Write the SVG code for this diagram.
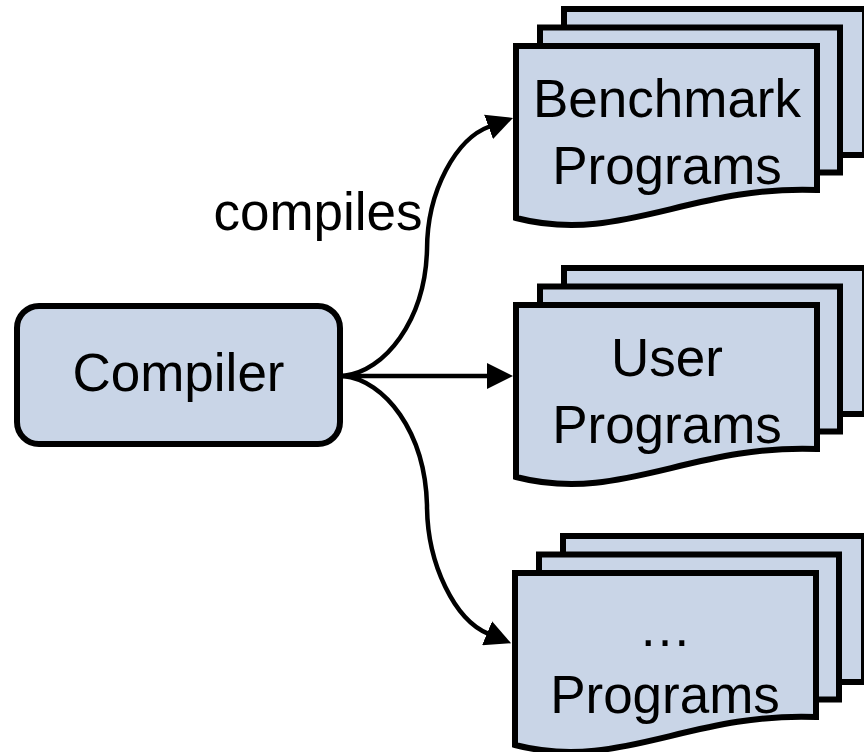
<svg xmlns="http://www.w3.org/2000/svg" width="864" height="752" viewBox="0 0 864 752">
  <style>
    .shape { fill: #c9d5e7; stroke: #000; stroke-width: 6; stroke-linejoin: miter; }
    .label { font-family: "Liberation Sans", Arial, sans-serif; font-size: 53px; fill: #000; text-anchor: middle; }
    .edge { fill: none; stroke: #000; stroke-width: 4.5; marker-end: url(#arrow); }
  </style>
  <defs>
    <marker id="arrow" viewBox="0 0 26 26" markerWidth="26" markerHeight="26" refX="1" refY="13" orient="auto" markerUnits="userSpaceOnUse">
      <path d="M0,0 L26,13 L0,26 Z" fill="#000"/>
    </marker>
    <!-- stack of three documents; front sheet has a wavy bottom -->
    <g id="docStack">
      <rect class="shape" x="564" y="-37" width="301" height="146"/>
      <rect class="shape" x="540" y="-18.5" width="300" height="145"/>
      <path class="shape" d="M516,0 L817,0 L817,144 C690,139 620,199 516,172 Z"/>
    </g>
  </defs>

  <g id="compiler">
    <rect class="shape" x="17" y="306" width="323" height="138" rx="22" ry="22"/>
    <text class="label" x="178.5" y="391">Compiler</text>
  </g>

  <g id="benchmark-programs">
    <use href="#docStack" transform="translate(0,46)"/>
    <text class="label" x="667" y="117">Benchmark</text>
    <text class="label" x="667" y="184">Programs</text>
  </g>

  <g id="user-programs">
    <use href="#docStack" transform="translate(0,305)"/>
    <text class="label" x="667" y="376">User</text>
    <text class="label" x="667" y="443">Programs</text>
  </g>

  <g id="other-programs">
    <use href="#docStack" transform="translate(-1,573)"/>
    <text class="label" x="665" y="646">…</text>
    <text class="label" x="665" y="713">Programs</text>
  </g>

  <g id="connectors">
    <path class="edge" d="M343,376 C385,372 425,320 427,250 C427,190 456.6,138.5 489.5,126.5"/>
    <path class="edge" d="M343,376 L488,376"/>
    <path class="edge" d="M343,376 C385,380 425,432 427,505 C427,565 455.4,620.1 488,633.6"/>
    <text class="label" x="318" y="230">compiles</text>
  </g>
</svg>
